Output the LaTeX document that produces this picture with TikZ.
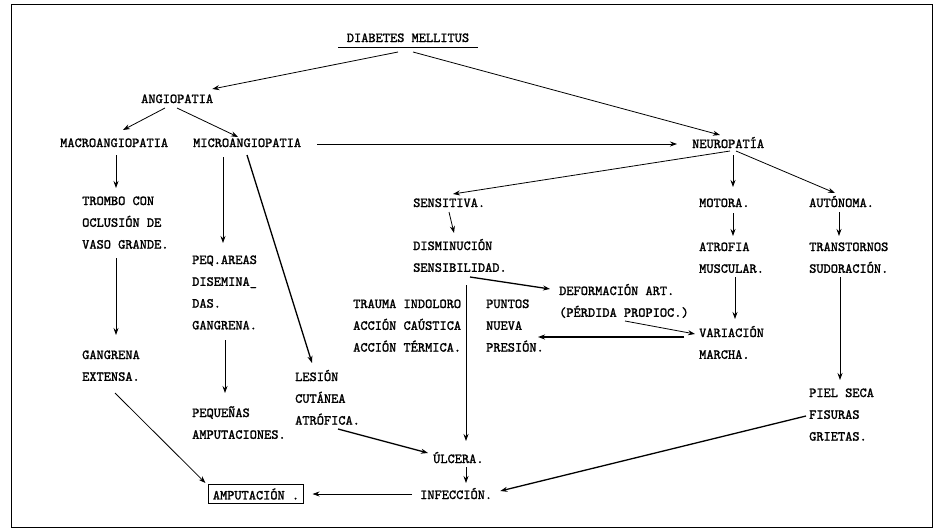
\documentclass[tikz,border=0pt]{standalone}
\usepackage{fontspec}
\newfontfamily\typefont{lmmono10-regular.otf}[FakeBold=1.6]
\usetikzlibrary{arrows.meta}

% stacked lines, baseline on the first line
\newcommand{\blocktext}[1]{\begin{tabular}[t]{@{}l@{}}#1\end{tabular}}

\begin{document}
\begin{tikzpicture}[
        x=1pt, y=-1pt,
        type font/.style={font=\typefont\fontsize{13.7}{21.8}\selectfont},
        item node/.style={type font,anchor=base west,inner sep=0pt},
        box node/.style={type font,draw,line width=0.8pt,inner sep=4pt},
        every edge/.style={draw,line width=0.8pt,-{Stealth[length=7pt,width=5pt]}},
        heavy/.style={line width=1.3pt},
    ]
    \useasboundingbox (0,0) rectangle (935,530);
    \draw[line width=1pt] (11,4) rectangle (932,527);

    % top levels
    \node[item node,anchor=base] (dm) at (408,42) {DIABETES MELLITUS};
    \draw[line width=0.9pt] ([xshift=-70pt,yshift=-5pt]dm.base) -- ([xshift=70pt,yshift=-5pt]dm.base);
    \node[item node] (ang) at (141,103) {ANGIOPATIA};
    \node[item node] (macro) at (60,147) {MACROANGIOPATIA};
    \node[item node] (micro) at (193,147) {MICROANGIOPATIA};
    \node[item node] (neuro) at (692,148) {NEUROPATÍA};

    % angiopatia branch
    \node[item node] (trombo) at (82,205) {\blocktext{TROMBO CON\\OCLUSIÓN DE\\VASO GRANDE.}};
    \node[item node] (gangrena) at (82,359) {\blocktext{GANGRENA\\EXTENSA.}};
    \node[item node] (peq) at (192,264) {\blocktext{PEQ.AREAS\\DISEMINA\_\\DAS.\\GANGRENA.}};
    \node[item node] (pequenas) at (192,417) {\blocktext{PEQUEÑAS\\AMPUTACIONES.}};
    \node[item node] (lesion) at (295,381) {\blocktext{LESIÓN\\CUTÁNEA\\ATRÓFICA.}};
    \node[box node] (amput) at (256,494) {AMPUTACIÓN .};

    % neuropatia branch
    \node[item node] (sensitiva) at (413,207) {SENSITIVA.};
    \node[item node] (dismin) at (413,250) {\blocktext{DISMINUCIÓN\\SENSIBILIDAD.}};
    \node[item node] (trauma) at (353,308) {\blocktext{TRAUMA INDOLORO\\ACCIÓN CAÚSTICA\\ACCIÓN TÉRMICA.}};
    \node[item node] (puntos) at (486,308) {\blocktext{PUNTOS\\NUEVA\\PRESIÓN.}};
    \node[item node] (deform) at (559,295) {\blocktext{DEFORMACIÓN ART.\\(PÉRDIDA PROPIOC.)}};
    \node[item node] (motora) at (699,207) {MOTORA.};
    \node[item node] (atrofia) at (699,251) {\blocktext{ATROFIA\\MUSCULAR.}};
    \node[item node] (variacion) at (699,337) {\blocktext{VARIACIÓN\\MARCHA.}};
    \node[item node] (autonoma) at (809,207) {AUTÓNOMA.};
    \node[item node] (trans) at (809,251) {\blocktext{TRANSTORNOS\\SUDORACIÓN.}};
    \node[item node] (piel) at (809,397) {\blocktext{PIEL SECA\\FISURAS\\GRIETAS.}};
    \node[item node] (ulcera) at (433,463) {ÚLCERA.};
    \node[item node] (infeccion) at (420,499) {INFECCIÓN.};

    \path ([xshift=-10pt,yshift=-10pt]dm.base) edge ([xshift=-1pt,yshift=14pt]ang.base east);
    \path ([xshift=5pt,yshift=-10pt]dm.base) edge ([xshift=28pt,yshift=13pt]neuro.base west);
    \path ([xshift=24pt,yshift=-5pt]ang.base west) edge ([xshift=63pt,yshift=17pt]macro.base west);
    \path ([xshift=36pt,yshift=-5pt]ang.base west) edge ([xshift=45pt,yshift=10pt]micro.base west);
    \path ([xshift=16pt,yshift=3pt]micro.base east) edge ([xshift=-15pt,yshift=4pt]neuro.base west);

    \path ([xshift=56pt,yshift=-8pt]macro.base west) edge ([xshift=34pt,yshift=17pt]trombo.base west);
    \path ([xshift=30pt,yshift=-10pt]micro.base west) edge ([xshift=31pt,yshift=21pt]peq.base west);
    \path ([xshift=54pt,yshift=-8pt]micro.base west) edge[heavy] ([xshift=17pt,yshift=18pt]lesion.base west);
    \path ([xshift=34pt,yshift=-53pt]trombo.base west) edge ([xshift=34pt,yshift=24pt]gangrena.base west);
    \path ([xshift=33pt,yshift=-76pt]peq.base west) edge ([xshift=33pt,yshift=24pt]pequenas.base west);
    \path ([xshift=33pt,yshift=-34pt]gangrena.base west) edge ([xshift=-3pt,yshift=1pt]amput.north west);
    \path ([xshift=43pt,yshift=-48pt]lesion.base west) edge[heavy] ([xshift=-5pt,yshift=10pt]ulcera.base west);

    \path ([xshift=38pt,yshift=-3pt]neuro.base west) edge ([xshift=40pt,yshift=13pt]sensitiva.base west);
    \path ([xshift=41pt,yshift=-7pt]neuro.base west) edge ([xshift=34pt,yshift=20pt]motora.base west);
    \path ([xshift=44pt,yshift=-3pt]neuro.base west) edge ([xshift=26pt,yshift=14pt]autonoma.base west);
    \path ([xshift=36pt,yshift=-5pt]sensitiva.base west) edge ([xshift=41pt,yshift=17pt]dismin.base west);
    \path ([xshift=57pt,yshift=-27pt]dismin.base west) edge[heavy] ([xshift=-9pt,yshift=6pt]deform.base west);
    \path ([xshift=53pt,yshift=-35pt]dismin.base west) edge ([xshift=33pt,yshift=22pt]ulcera.base west);
    \path ([xshift=66pt,yshift=-26pt]deform.base west) edge ([xshift=-4pt,yshift=3pt]variacion.base west);
    \path ([xshift=-15pt]variacion.base west) edge[heavy] ([xshift=52pt,yshift=-29pt]puntos.base west);
    \path ([xshift=34pt,yshift=-6pt]motora.base west) edge ([xshift=34pt,yshift=15pt]atrofia.base west);
    \path ([xshift=36pt,yshift=-26pt]atrofia.base west) edge ([xshift=36pt,yshift=18pt]variacion.base west);
    \path ([xshift=30pt,yshift=-5pt]autonoma.base west) edge ([xshift=30pt,yshift=15pt]trans.base west);
    \path ([xshift=31pt,yshift=-26pt]trans.base west) edge ([xshift=31pt,yshift=17pt]piel.base west);
    \path ([xshift=-3pt,yshift=-19pt]piel.base west) edge[heavy] ([xshift=8pt,yshift=8pt]infeccion.base east);
    \path ([xshift=33pt,yshift=-4pt]ulcera.base west) edge ([xshift=46pt,yshift=16pt]infeccion.base west);
    \path ([xshift=-8pt,yshift=5pt]infeccion.base west) edge ([xshift=9pt]amput.east);
\end{tikzpicture}
\end{document}
